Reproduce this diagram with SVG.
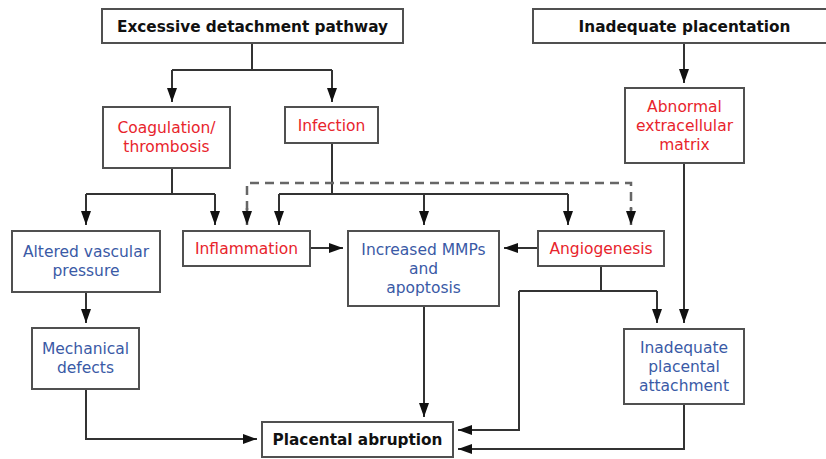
<svg xmlns="http://www.w3.org/2000/svg" width="826" height="459" viewBox="0 0 826 459">
<defs>
<marker id="ah" markerWidth="14" markerHeight="10" refX="14" refY="5" orient="auto" markerUnits="userSpaceOnUse">
<path d="M0,0 L14,5 L0,10 Z" fill="#111"/>
</marker>
</defs>
<style>
.box{fill:#fff;stroke:#505050;stroke-width:2}
.t{font-family:"DejaVu Sans",Verdana,sans-serif;font-size:15.5px;text-anchor:middle}
.b{font-weight:bold;fill:#111;font-size:15.3px}
.r{fill:#e8242c}
.bl{fill:#3a5aa6}
.c{fill:none;stroke:#333;stroke-width:2}
.d{fill:none;stroke:#666;stroke-width:2.5;stroke-dasharray:9 6}
.ds{fill:none;stroke:#666;stroke-width:2.5}
</style>
<rect width="826" height="459" fill="#fff"/>
<g id="connectors">
<path class="c" d="M252,43 V70 M172,70 H332"/>
<path class="c" d="M172,70 V102" marker-end="url(#ah)"/>
<path class="c" d="M332,70 V102" marker-end="url(#ah)"/>
<path class="c" d="M684,43 V83" marker-end="url(#ah)"/>
<path class="c" d="M172,168 V194 M86,194 H215"/>
<path class="c" d="M86,194 V225" marker-end="url(#ah)"/>
<path class="c" d="M215,194 V225" marker-end="url(#ah)"/>
<path class="c" d="M332,143 V194 M279,194 H568"/>
<path class="c" d="M279,194 V225" marker-end="url(#ah)"/>
<path class="c" d="M424,194 V225" marker-end="url(#ah)"/>
<path class="c" d="M568,194 V225" marker-end="url(#ah)"/>
<path class="d" d="M247,210 V183 H631 V210"/>
<path class="ds" d="M247,208 V225" marker-end="url(#ah)"/>
<path class="ds" d="M631,208 V225" marker-end="url(#ah)"/>
<path class="c" d="M310,248 H343" marker-end="url(#ah)"/>
<path class="c" d="M538,248 H504" marker-end="url(#ah)"/>
<path class="c" d="M86,292 V323" marker-end="url(#ah)"/>
<path class="c" d="M601,266 V291 M519,291 H657"/>
<path class="c" d="M657,291 V323" marker-end="url(#ah)"/>
<path class="c" d="M684,163 V323" marker-end="url(#ah)"/>
<path class="c" d="M519,291 V430 H458" marker-end="url(#ah)"/>
<path class="c" d="M684,404 V449 H458" marker-end="url(#ah)"/>
<path class="c" d="M424,306 V417" marker-end="url(#ah)"/>
<path class="c" d="M86,389 V439 H257" marker-end="url(#ah)"/>
</g>
<g id="n-excessive"><rect class="box" x="102" y="9" width="301" height="34"/><text class="t b" x="252.5" y="31.5">Excessive detachment pathway</text></g>
<g id="n-inadequate-placentation"><rect class="box" x="533" y="9" width="303" height="34"/><text class="t b" x="684.5" y="31.5">Inadequate placentation</text></g>
<g id="n-coagulation"><rect class="box" x="103" y="107" width="127" height="61"/><text class="t r" x="166.5" y="133">Coagulation/</text><text class="t r" x="166.5" y="152">thrombosis</text></g>
<g id="n-infection"><rect class="box" x="285" y="107" width="93" height="36"/><text class="t r" x="331.5" y="130.5">Infection</text></g>
<g id="n-abnormal"><rect class="box" x="625" y="88" width="119" height="75"/><text class="t r" x="684.5" y="111.5">Abnormal</text><text class="t r" x="684.5" y="130.5">extracellular</text><text class="t r" x="684.5" y="149.5">matrix</text></g>
<g id="n-altered"><rect class="box" x="12" y="231" width="148" height="61"/><text class="t bl" x="86" y="257">Altered vascular</text><text class="t bl" x="86" y="276">pressure</text></g>
<g id="n-inflammation"><rect class="box" x="183" y="231" width="127" height="35"/><text class="t r" x="246.5" y="254">Inflammation</text></g>
<g id="n-mmps"><rect class="box" x="348" y="231" width="151" height="75"/><text class="t bl" x="423.5" y="254.5">Increased MMPs</text><text class="t bl" x="423.5" y="273.5">and</text><text class="t bl" x="423.5" y="292.5">apoptosis</text></g>
<g id="n-angiogenesis"><rect class="box" x="538" y="231" width="126" height="35"/><text class="t r" x="601" y="254">Angiogenesis</text></g>
<g id="n-mechanical"><rect class="box" x="32" y="328" width="107" height="61"/><text class="t bl" x="85.5" y="354">Mechanical</text><text class="t bl" x="85.5" y="373">defects</text></g>
<g id="n-attachment"><rect class="box" x="624" y="329" width="120" height="75"/><text class="t bl" x="684" y="352.5">Inadequate</text><text class="t bl" x="684" y="371.5">placental</text><text class="t bl" x="684" y="390.5">attachment</text></g>
<g id="n-abruption"><rect class="box" x="262" y="422" width="191" height="35"/><text class="t b" x="357.5" y="445">Placental abruption</text></g>
</svg>
